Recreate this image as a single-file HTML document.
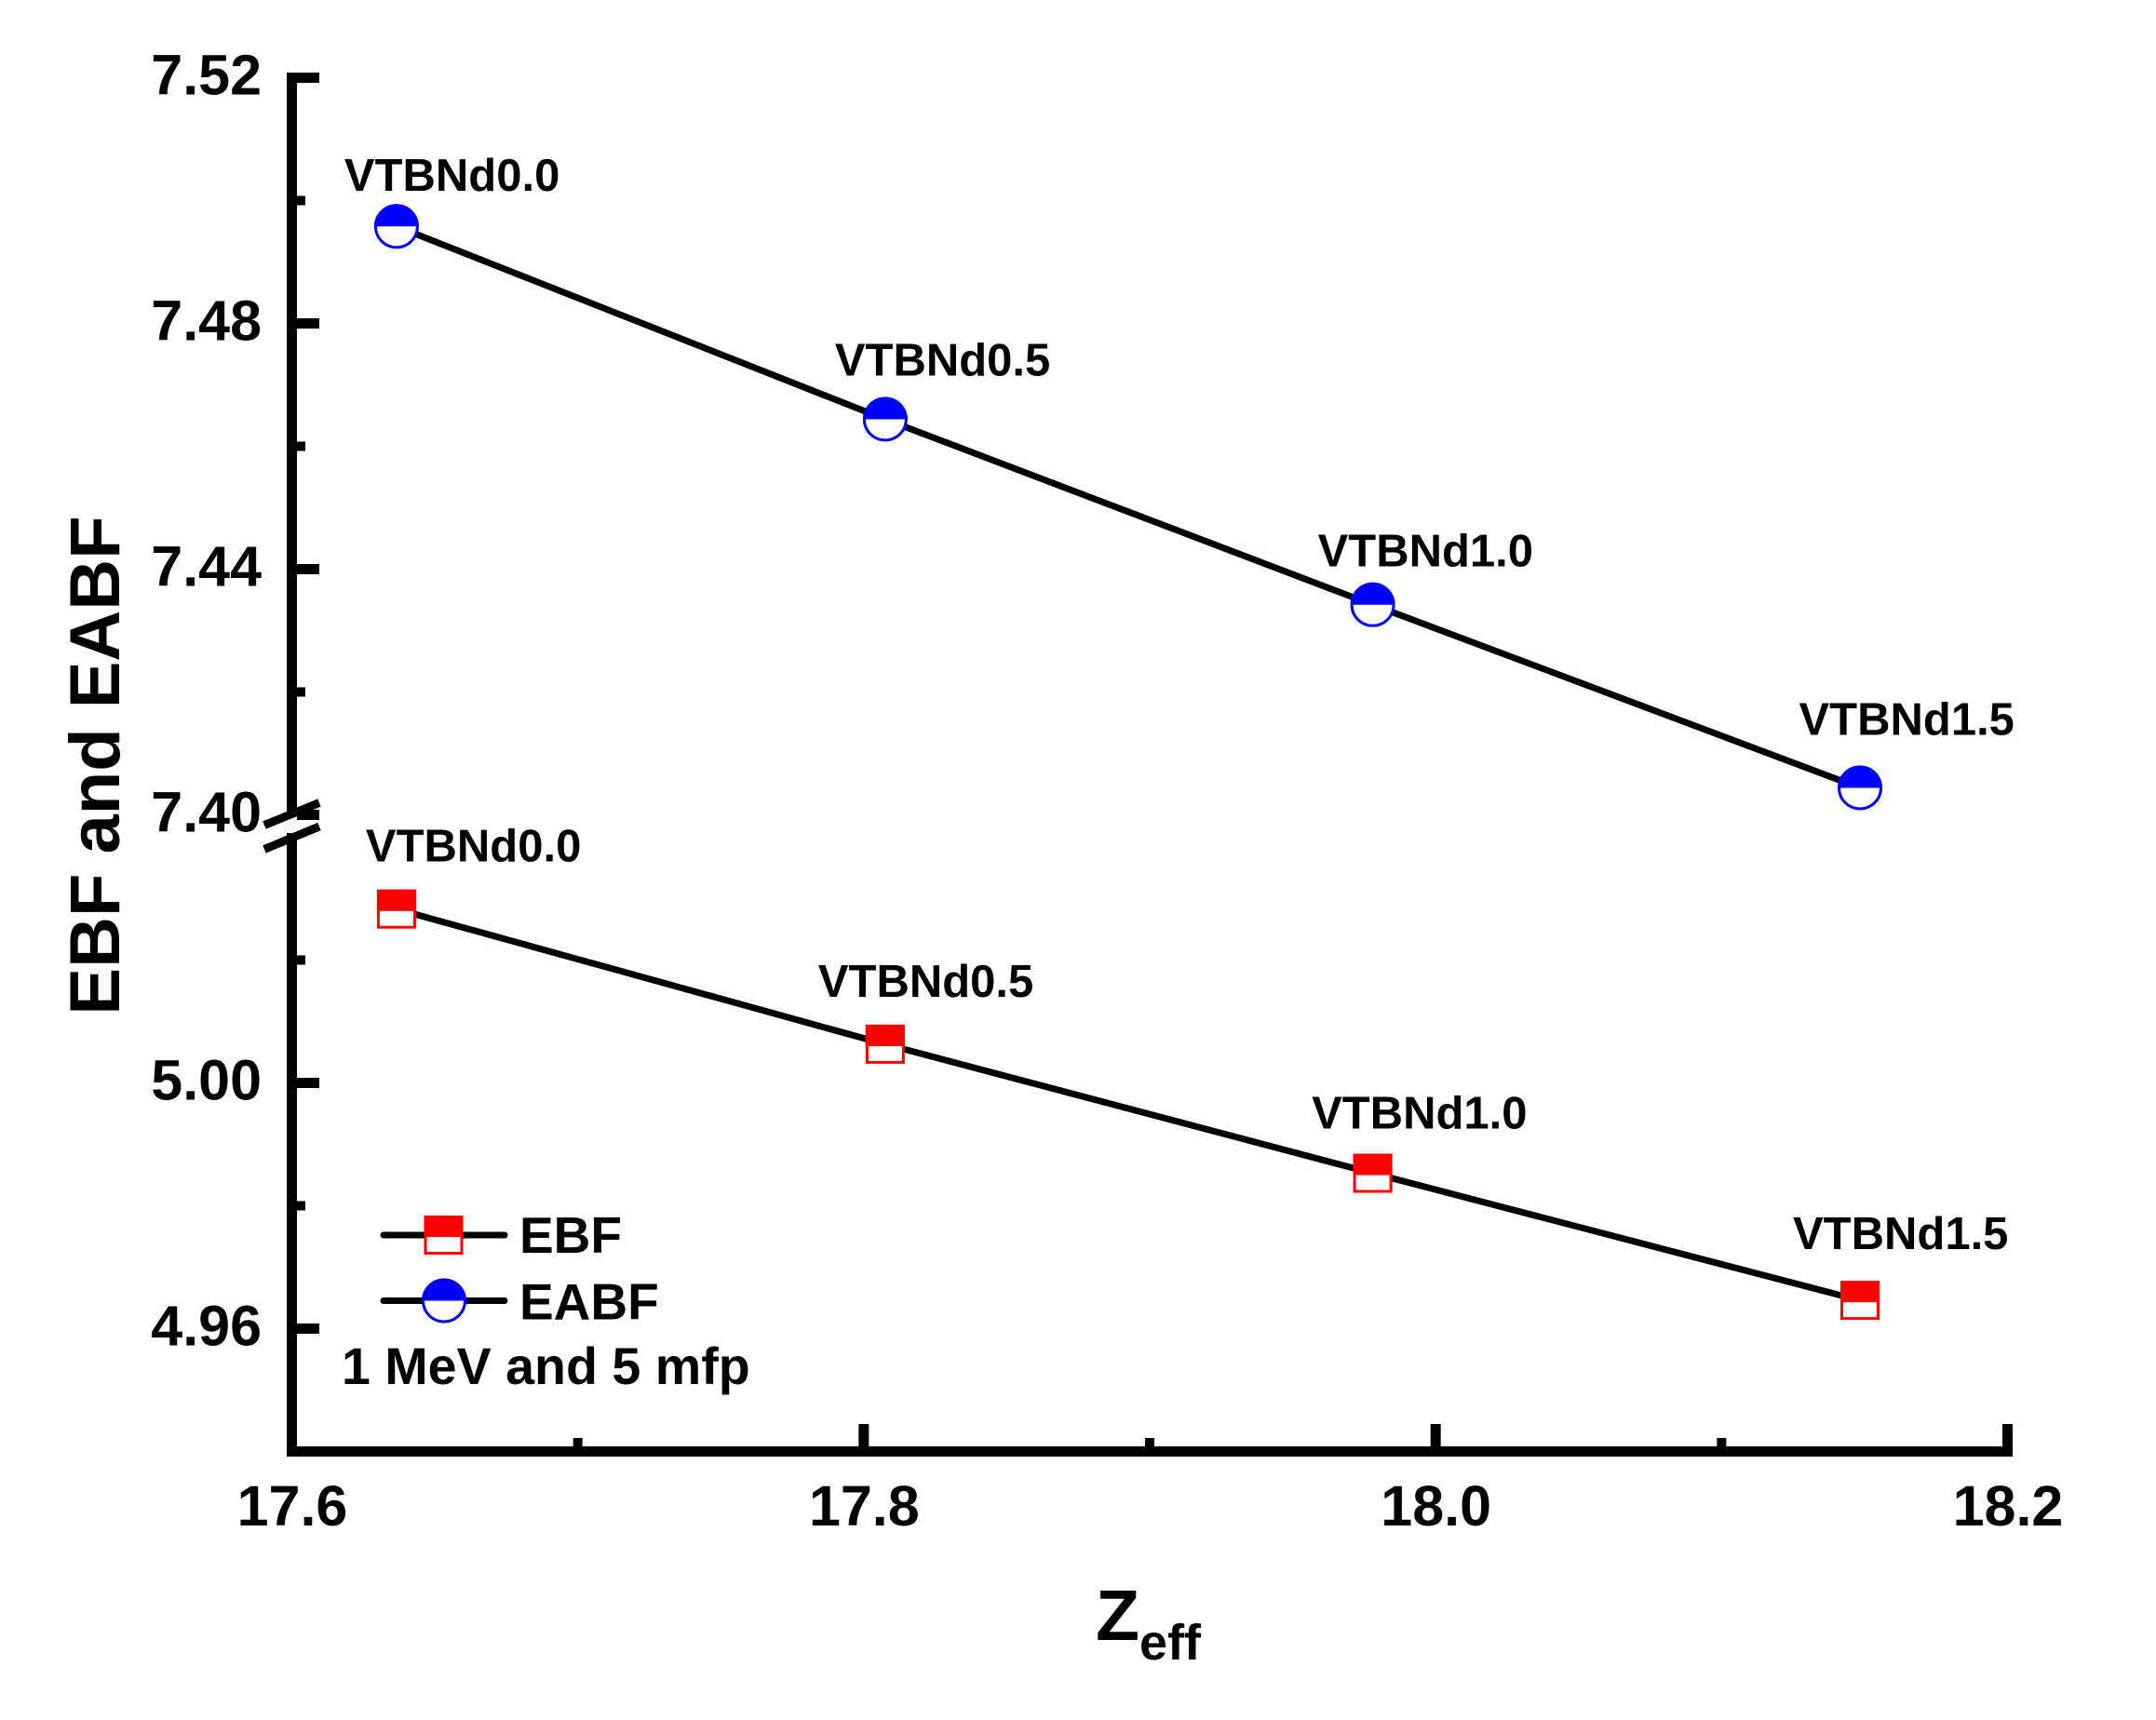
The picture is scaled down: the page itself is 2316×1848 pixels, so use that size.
<!DOCTYPE html>
<html lang="en">
<head>
<meta charset="utf-8">
<title>EBF and EABF vs Zeff</title>
<style>
html,body{margin:0;padding:0;background:#fff;}
svg{display:block;}
text{font-family:"Liberation Sans",Arial,sans-serif;font-weight:700;fill:#000;}
</style>
</head>
<body>
<svg id="chart" xmlns="http://www.w3.org/2000/svg" width="2316" height="1848" viewBox="0 0 2316 1848">
  <rect x="0" y="0" width="2316" height="1848" fill="#fff"/>
  <g id="axes"></g>
  <g id="series"></g>
  <g id="labels"></g>
  <text transform="translate(128 822.5) rotate(-90)" text-anchor="middle" font-size="76">EBF and EABF</text>
  <text x="1177" y="1762" font-size="77">Z<tspan font-size="54" dy="21">eff</tspan></text>
  <g id="legend">
    <line x1="412" y1="1327" x2="542" y2="1327" stroke="#000" stroke-width="7" stroke-linecap="round"/>
    <line x1="412" y1="1397.5" x2="542" y2="1397.5" stroke="#000" stroke-width="7" stroke-linecap="round"/>
    <text x="558" y="1346" font-size="55">EBF</text>
    <text x="558" y="1417.5" font-size="55">EABF</text>
    <text x="367" y="1487" font-size="55.6">1 MeV and 5 mfp</text>
  </g>
</svg>
<script>
const sampleNames = ["VTBNd0.0", "VTBNd0.5", "VTBNd1.0", "VTBNd1.5"];
const zeffValues = [17.6366, 17.8075, 17.978, 18.1484];
const eabfValues = [7.4958, 7.4644, 7.4342, 7.4044];
const ebfValues = [5.0283, 5.0063, 4.9853, 4.9646];
const xTickValues = [17.6, 17.7, 17.8, 17.9, 18.0, 18.1, 18.2];
const xTickLabels = ["17.6", "", "17.8", "", "18.0", "", "18.2"];
const yUpperTickValues = [7.52, 7.50, 7.48, 7.46, 7.44, 7.42, 7.40];
const yUpperTickLabels = ["7.52", "", "7.48", "", "7.44", "", "7.40"];
const yLowerTickValues = [5.02, 5.00, 4.98, 4.96];
const yLowerTickLabels = ["", "5.00", "", "4.96"];

const NS = "http://www.w3.org/2000/svg";
const axesGroup = document.getElementById("axes");
const seriesGroup = document.getElementById("series");
const labelsGroup = document.getElementById("labels");
const legendGroup = document.getElementById("legend");

function xScale(v) { return 313.5 + (v - 17.6) * 3071.67; }
function yUpper(v) { return 83.5 + (7.52 - v) * 6600; }
function yLower(v) { return 1163.5 + (5 - v) * 6600; }

function mk(tag, attrs, parent) {
  const node = document.createElementNS(NS, tag);
  for (const key in attrs) node.setAttribute(key, attrs[key]);
  parent.appendChild(node);
  return node;
}

/* axis lines */
const axisUpper = mk("line", {x1: 313.5, y1: 78, x2: 313.5, y2: 872, stroke: "#000", "stroke-width": 11}, axesGroup);


const axisLower = mk("line", {x1: 313.5, y1: 895, x2: 313.5, y2: 1565, stroke: "#000", "stroke-width": 11}, axesGroup);


const axisX = mk("line", {x1: 308, y1: 1559.5, x2: 2162, y2: 1559.5, stroke: "#000", "stroke-width": 11}, axesGroup);



/* axis break marks */
const breakTop = mk("line", {x1: 284, y1: 886.5, x2: 343, y2: 862.5, stroke: "#000", "stroke-width": 9}, axesGroup);


const breakBottom = mk("line", {x1: 284, y1: 912.5, x2: 343, y2: 888, stroke: "#000", "stroke-width": 9}, axesGroup);



function addYTick(y, label, parent) {
  const major = label !== "";
  const tick = mk("line", {x1: 319, y1: y, x2: major ? 343 : 328, y2: y, stroke: "#000", "stroke-width": major ? 11 : 10}, parent);
  
  
  if (major) {
    const t = mk("text", {x: 281, y: y + 18, "text-anchor": "end", "font-size": 61}, parent);
    t.textContent = label;
    
    
  }
}
yUpperTickValues.forEach(function (v, i) { addYTick(yUpper(v), yUpperTickLabels[i], axesGroup); });
yLowerTickValues.forEach(function (v, i) { addYTick(yLower(v), yLowerTickLabels[i], axesGroup); });

xTickValues.forEach(function (v, i) {
  const x = xScale(v);
  const major = xTickLabels[i] !== "";
  const tick = mk("line", {x1: x, y1: 1554, x2: x, y2: major ? 1530 : 1545, stroke: "#000", "stroke-width": major ? 11 : 10}, axesGroup);
  
  
  if (major) {
    const t = mk("text", {x: x + 0.5, y: 1639, "text-anchor": "middle", "font-size": 61}, axesGroup);
    t.textContent = xTickLabels[i];
    
    
  }
});

function squareMarker(cx, cy, parent) {
  const g = mk("g", {}, parent);
  mk("rect", {x: cx - 19.5, y: cy - 19.5, width: 39, height: 39, fill: "#fff", stroke: "#f00", "stroke-width": 3}, g);
  mk("rect", {x: cx - 21, y: cy - 21, width: 42, height: 23, fill: "#f00"}, g);
  return g;
}
function circleMarker(cx, cy, parent) {
  const g = mk("g", {}, parent);
  mk("circle", {cx: cx, cy: cy, r: 22.5, fill: "#fff", stroke: "#00f", "stroke-width": 3}, g);
  mk("path", {d: "M" + (cx - 24) + " " + cy + "A24 24 0 0 1 " + (cx + 24) + " " + cy + "Z", fill: "#00f"}, g);
  return g;
}

/* EBF series */
const ebfPoints = zeffValues.map(function (z, i) { return xScale(z) + "," + yLower(ebfValues[i]); }).join(" ");
const ebfLine = mk("polyline", {points: ebfPoints, fill: "none", stroke: "#000", "stroke-width": 7}, seriesGroup);


ebfValues.forEach(function (v, i) {
  const m = squareMarker(xScale(zeffValues[i]), yLower(v), seriesGroup);
  
  
});

/* EABF series */
const eabfPoints = zeffValues.map(function (z, i) { return xScale(z) + "," + yUpper(eabfValues[i]); }).join(" ");
const eabfLine = mk("polyline", {points: eabfPoints, fill: "none", stroke: "#000", "stroke-width": 7}, seriesGroup);


eabfValues.forEach(function (v, i) {
  const m = circleMarker(xScale(zeffValues[i]), yUpper(v), seriesGroup);
  
  
});

/* point annotations: placed relative to their point */
const eabfLabelDx = [-56, -54, -59, -65.5];
const eabfLabelDy = [-38, -47, -41.5, -57];
const ebfLabelDx = [-33, -72, -65.5, -72];
const ebfLabelDy = [-51, -51, -48, -55];
sampleNames.forEach(function (name, i) {
  const a = mk("text", {x: xScale(zeffValues[i]) + eabfLabelDx[i], y: yUpper(eabfValues[i]) + eabfLabelDy[i], "font-size": 49}, labelsGroup);
  a.textContent = name;
  
  
  const b = mk("text", {x: xScale(zeffValues[i]) + ebfLabelDx[i], y: yLower(ebfValues[i]) + ebfLabelDy[i], "font-size": 49}, labelsGroup);
  b.textContent = name;
  
  
});

/* legend markers */
const legendSquare = squareMarker(476.5, 1327, legendGroup);


const legendCircle = circleMarker(477, 1397.5, legendGroup);


</script>
</body>
</html>
